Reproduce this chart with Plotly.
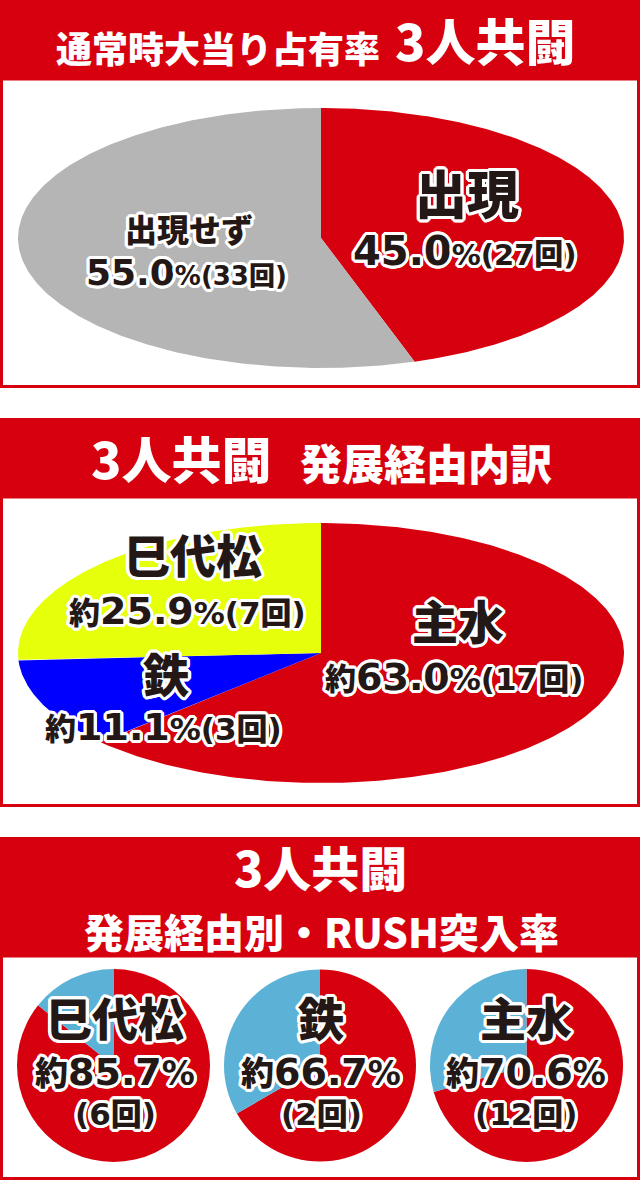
import numpy as np
import plotly.graph_objects as go

W, H = 640, 1180

# ---------------- data ----------------
sec1_title_a = "通常時大当り占有率"
sec1_title_b = "3人共闘"
sec1_labels = ["出現", "出現せず"]
sec1_counts = [27, 33]
sec1_pct = [45.0, 55.0]

sec2_title_a = "3人共闘"
sec2_title_b = "発展経由内訳"
sec2_labels = ["主水", "鉄", "巳代松"]
sec2_counts = [17, 3, 7]
sec2_pct = [63.0, 11.1, 25.9]

sec3_title_a = "3人共闘"
sec3_title_b = "発展経由別・RUSH突入率"
sec3_labels = ["巳代松", "鉄", "主水"]
sec3_rush = [6, 2, 12]
sec3_total = [7, 3, 17]
sec3_pct = [85.7, 66.7, 70.6]

# ---------------- style ----------------
RED = "#d7000f"
GRAY = "#b5b5b6"
YELLOW = "#e6ff0a"
BLUE = "#0000ff"
LBLUE = "#5bb2d6"
INK = "#231815"
sec1_colors = [RED, GRAY]
sec2_colors = [RED, BLUE, YELLOW]

TITLE_FONT = "Noto Sans CJK JP"
LABEL_FONT = "DejaVu Sans, Noto Sans CJK JP"
offs = [(3, 0), (-3, 0), (0, 3), (0, -3), (2, 2), (-2, 2), (2, -2), (-2, -2),
        (3, 1), (3, -1), (-3, 1), (-3, -1), (1, 3), (-1, 3), (1, -3), (-1, -3)]
OUTLINE = ", ".join(f"{a}px {b}px 0 #ffffff" for a, b in offs)


def px(x):
    return x / W


def py(y):
    return 1 - y / H


def wedges(values, colors, xa, ya):
    tot = float(sum(values))
    cum = np.concatenate([[0.0], np.cumsum(values) / tot])
    traces = []
    for i, c in enumerate(colors):
        t = np.linspace(2 * np.pi * cum[i], 2 * np.pi * cum[i + 1], 300)
        xs = np.concatenate([[0.0], np.sin(t), [0.0]])
        ys = np.concatenate([[0.0], np.cos(t), [0.0]])
        traces.append(go.Scatter(x=xs, y=ys, mode="lines", fill="toself",
                                 fillcolor=c, line=dict(width=0, color=c),
                                 hoverinfo="skip", showlegend=False,
                                 xaxis=xa, yaxis=ya))
    return traces


fig = go.Figure()
for tr in wedges(sec1_counts, sec1_colors, "x", "y"):
    fig.add_trace(tr)
for tr in wedges(sec2_counts, sec2_colors, "x2", "y2"):
    fig.add_trace(tr)

pie_x = [(17, 210), (224, 416), (430, 623)]
pie_y = (969, 1162)
for i in range(3):
    fig.add_trace(go.Pie(values=[sec3_rush[i], sec3_total[i] - sec3_rush[i]],
                         marker=dict(colors=[RED, LBLUE], line=dict(width=0)),
                         direction="clockwise", sort=False, rotation=0,
                         textinfo="none", hoverinfo="skip", showlegend=False,
                         domain=dict(x=[px(pie_x[i][0]), px(pie_x[i][1])],
                                     y=[py(pie_y[1]), py(pie_y[0])])))

ax = dict(range=[-1, 1], visible=False, fixedrange=True)
fig.update_layout(
    width=W, height=H, margin=dict(l=0, r=0, t=0, b=0),
    paper_bgcolor="white", plot_bgcolor="rgba(0,0,0,0)",
    showlegend=False,
    xaxis=dict(domain=[px(18), px(624)], **ax),
    yaxis=dict(domain=[py(368), py(108)], **ax),
    xaxis2=dict(domain=[px(18), px(624)], anchor="y2", **ax),
    yaxis2=dict(domain=[py(783), py(523)], anchor="x2", **ax),
)

# headers and boxes
shapes = []
for (h0, h1, b1) in [(0, 80, 386.5), (418, 498, 805.5), (837, 957, 1178.5)]:
    shapes.append(dict(type="rect", xref="paper", yref="paper",
                       x0=0, x1=1, y0=py(h1), y1=py(h0),
                       fillcolor=RED, line=dict(width=0)))
    shapes.append(dict(type="rect", xref="paper", yref="paper",
                       x0=px(1.5), x1=px(638.5), y0=py(b1), y1=py(h1 - 1),
                       fillcolor="rgba(0,0,0,0)", line=dict(width=3, color=RED)))
fig.update_layout(shapes=shapes)

ann = []


def title(x, y, text, size):
    ann.append(dict(xref="paper", yref="paper", x=px(x), y=py(y), text=text,
                    showarrow=False, xanchor="center", yanchor="middle",
                    font=dict(family=TITLE_FONT, size=size, color="white", weight=900)))


def lab(x, y, text, size):
    ann.append(dict(xref="paper", yref="paper", x=px(x), y=py(y), text=text,
                    showarrow=False, xanchor="center", yanchor="middle",
                    font=dict(family=LABEL_FONT, size=size, color=INK, weight=900,
                              shadow=OUTLINE)))


def sm(t, s):
    return f"<span style='font-size:{s}px'>{t}</span>"


# titles
title(218, 47, sec1_title_a, 36)
title(485, 39, sec1_title_b, 50)
title(181, 457, sec2_title_a, 50)
title(426, 461, sec2_title_b, 42)
title(320, 866, sec3_title_a, 48)
title(321, 931, sec3_title_b, 40)

# section 1 labels
lab(467, 196, sec1_labels[0], 52)
lab(465, 251, f"{sec1_pct[0]:.1f}" + sm(f"%({sec1_counts[0]}回)", 29), 40)
lab(189, 231, sec1_labels[1], 32)
lab(186, 272, f"{sec1_pct[1]:.1f}" + sm(f"%({sec1_counts[1]}回)", 26), 36)

# section 2 labels
pos2 = [((458, 623), (454, 677)), ((166, 676), (163, 727)), ((193, 557), (187, 611))]
for i in range(3):
    (nx, ny), (vx, vy) = pos2[i]
    lab(nx, ny, sec2_labels[i], 46)
    lab(vx, vy, sm("約", 31) + f"{sec2_pct[i]:.1f}" + sm(f"%({sec2_counts[i]}回)", 31), 38)

# section 3 labels
cx3 = [115, 321, 526]
for i in range(3):
    lab(cx3[i], 1020, sec3_labels[i], 46)
    lab(cx3[i], 1072, sm("約", 33) + f"{sec3_pct[i]:.1f}" + sm("%", 33), 38)
    lab(cx3[i], 1114, f"({sec3_rush[i]}回)", 31)

fig.update_layout(annotations=ann)
fig.write_html(
    "out.html",
    config={"displayModeBar": False},
    post_script="document.body.style.margin='0';document.body.style.overflow='hidden';",
)
